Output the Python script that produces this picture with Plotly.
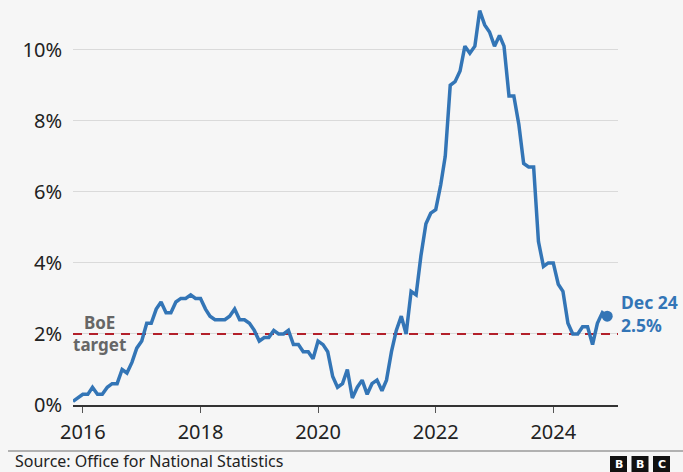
import plotly.graph_objects as go
import pandas as pd

start_month = "2015-11-01"
cpi = [
    0.1, 0.2,
    0.3, 0.3, 0.5, 0.3, 0.3, 0.5, 0.6, 0.6, 1.0, 0.9, 1.2, 1.6,
    1.8, 2.3, 2.3, 2.7, 2.9, 2.6, 2.6, 2.9, 3.0, 3.0, 3.1, 3.0,
    3.0, 2.7, 2.5, 2.4, 2.4, 2.4, 2.5, 2.7, 2.4, 2.4, 2.3, 2.1,
    1.8, 1.9, 1.9, 2.1, 2.0, 2.0, 2.1, 1.7, 1.7, 1.5, 1.5, 1.3,
    1.8, 1.7, 1.5, 0.8, 0.5, 0.6, 1.0, 0.2, 0.5, 0.7, 0.3, 0.6,
    0.7, 0.4, 0.7, 1.5, 2.1, 2.5, 2.0, 3.2, 3.1, 4.2, 5.1, 5.4,
    5.5, 6.2, 7.0, 9.0, 9.1, 9.4, 10.1, 9.9, 10.1, 11.1, 10.7, 10.5,
    10.1, 10.4, 10.1, 8.7, 8.7, 7.9, 6.8, 6.7, 6.7, 4.6, 3.9, 4.0,
    4.0, 3.4, 3.2, 2.3, 2.0, 2.0, 2.2, 2.2, 1.7, 2.3, 2.6, 2.5,
]
dates = pd.date_range(start_month, periods=len(cpi), freq="MS")
target = 2.0
y_ticks = [0, 2, 4, 6, 8, 10]
y_labels = ["0%", "2%", "4%", "6%", "8%", "10%"]
x_ticks = ["2016-01-01", "2018-01-01", "2020-01-01", "2022-01-01", "2024-01-01"]
x_labels = ["2016", "2018", "2020", "2022", "2024"]
last_label = "Dec 24<br>2.5%"
target_label = "BoE<br>target"
source = "Source: Office for National Statistics"

W, H = 683, 472
L, R, T, B = 73, 65, 0, 67
PW, PH = W - L - R, H - T - B
def px(x):
    return (x - L) / PW
def py(y):
    return (H - B - y) / PH

BLUE = "#3375b6"
RED = "#b3202a"
BG = "#f6f6f6"
FONT = "Noto Sans"

fig = go.Figure()
fig.add_trace(go.Scatter(
    x=[dates[0], pd.Timestamp("2025-02-06")], y=[target, target],
    mode="lines", line=dict(color=RED, width=2, dash="9px,7px"),
    hoverinfo="skip", showlegend=False))
fig.add_trace(go.Scatter(
    x=dates, y=cpi, mode="lines",
    line=dict(color=BLUE, width=3.5), showlegend=False))
fig.add_trace(go.Scatter(
    x=[dates[-1]], y=[cpi[-1]], mode="markers",
    marker=dict(color=BLUE, size=11), showlegend=False))

fig.add_annotation(x=dates[-1], y=cpi[-1], xref="x", yref="y",
                   text="<b>" + last_label + "</b>", showarrow=False,
                   xanchor="left", yanchor="middle", xshift=12, yshift=3,
                   align="left", font=dict(family=FONT, size=17.5, color=BLUE))
fig.add_annotation(x=px(99), y=target, xref="paper", yref="y",
                   text="<b>" + target_label + "</b>", showarrow=False,
                   xanchor="center", yanchor="middle", yshift=0,
                   align="center", font=dict(family=FONT, size=17, color="#666666"))

# footer
fig.add_shape(type="line", xref="paper", yref="paper",
              x0=px(8), x1=px(683), y0=py(451), y1=py(451),
              line=dict(color="#9a9a9a", width=1.5))
fig.add_annotation(x=px(14), y=py(460.5), xref="paper", yref="paper",
                   text=source, showarrow=False, xanchor="left", yanchor="middle",
                   borderpad=0,
                   font=dict(family=FONT, size=16, color="#222222"))
for i, letter in enumerate(["B", "B", "C"]):
    x0 = 610 + i * 21.5
    fig.add_shape(type="rect", xref="paper", yref="paper",
                  x0=px(x0), x1=px(x0 + 17), y0=py(456), y1=py(473),
                  fillcolor="#111111", line=dict(width=0))
    fig.add_annotation(x=px(x0 + 8.5), y=py(464.5), xref="paper", yref="paper",
                       text="<b>" + letter + "</b>", showarrow=False,
                       xanchor="center", yanchor="middle",
                       font=dict(family="DejaVu Sans", size=11, color="white"))

fig.update_layout(
    width=W, height=H, margin=dict(l=L, r=R, t=T, b=B),
    paper_bgcolor=BG, plot_bgcolor=BG,
    font=dict(family=FONT, size=20, color="#222222"),
    xaxis=dict(range=[dates[0], pd.Timestamp("2025-02-06")],
               tickvals=x_ticks, ticktext=x_labels,
               showgrid=False, zeroline=False,
               showline=True, linecolor="#333333", linewidth=1.5,
               ticks="outside", ticklen=6, tickcolor="#555555", tickwidth=1,
               ticklabelstandoff=2, tickfont=dict(size=20)),
    yaxis=dict(range=[0, 11.4], tickvals=y_ticks, ticktext=y_labels,
               showgrid=True, gridcolor="#dadada", gridwidth=1,
               zeroline=False, showline=False, ticks="",
               ticklabelstandoff=10, tickfont=dict(size=20)),
)
fig.write_html("out.html")
